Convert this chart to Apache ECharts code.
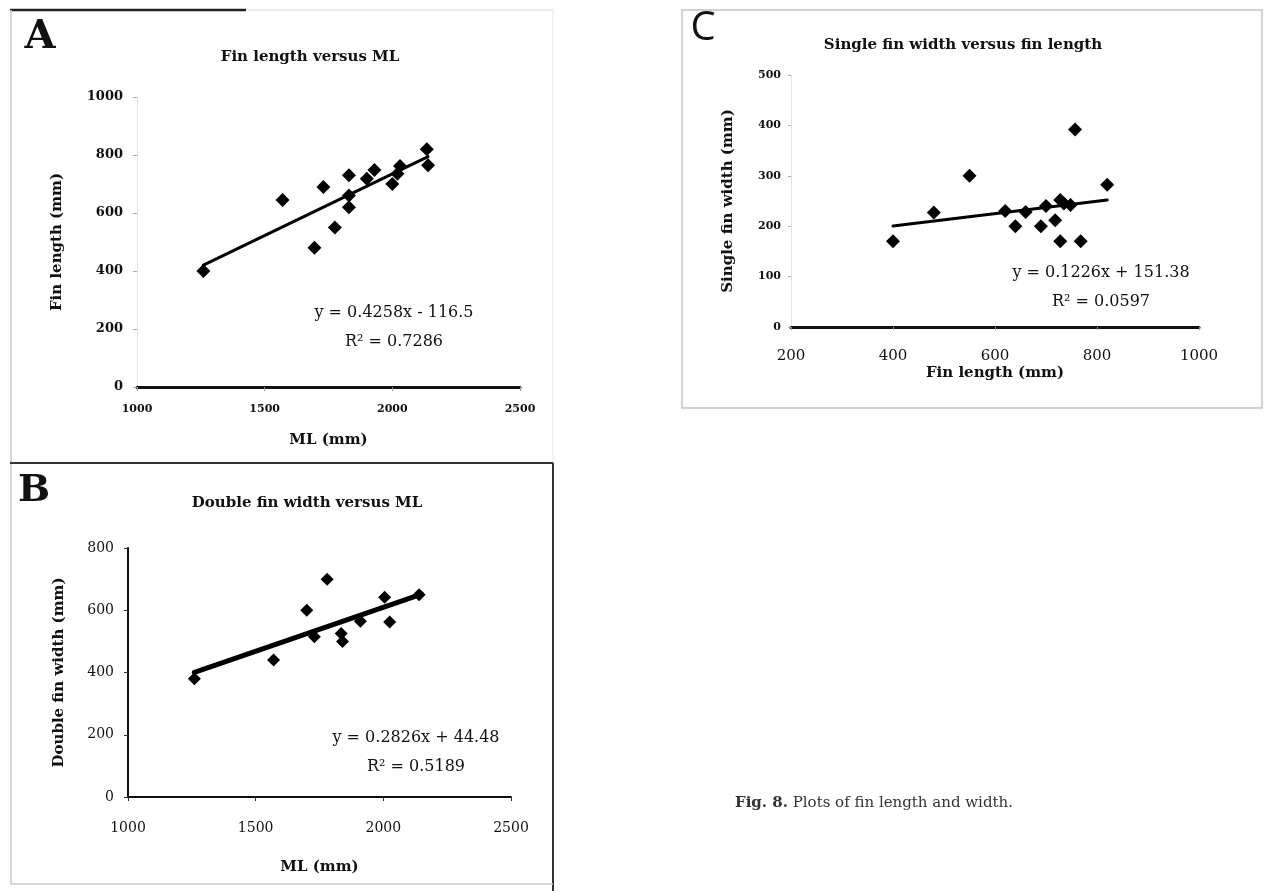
<!DOCTYPE html>
<html>
<head>
<meta charset="utf-8">
<script src="https://cdn.jsdelivr.net/npm/echarts@6/dist/echarts.min.js"></script>
<style>
  html, body { margin: 0; padding: 0; background: #fff; }
  #chart { width: 1268px; height: 891px; }
</style>
</head>
<body>
<div id="chart"></div>
<script>
// Panel A: fin length vs ML
const mlA = [1260, 1570, 1695, 1730, 1775, 1830, 1830, 1830, 1900, 1930, 2000, 2020, 2030, 2135, 2140];
const finLengthA = [400, 645, 480, 690, 550, 730, 660, 620, 718, 748, 700, 735, 762, 820, 765];

// Panel B: double fin width vs ML
const mlB = [1260, 1570, 1700, 1730, 1780, 1835, 1840, 1910, 2005, 2025, 2140];
const doubleWidthB = [380, 440, 600, 515, 700, 525, 500, 565, 642, 562, 650];

// Panel C: single fin width vs fin length
const finLengthC = [400, 480, 550, 620, 640, 660, 690, 700, 718, 728, 728, 735, 748, 757, 768, 820];
const singleWidthC = [170, 227, 300, 230, 200, 228, 200, 240, 212, 252, 170, 245, 242, 392, 170, 282];

// linear fits printed on the panels
const slopes = [0.4258, 0.2826, 0.1226];
const intercepts = [-116.5, 44.48, 151.38];
const fitSpans = [[1260, 2140], [1260, 2150], [400, 820]];
const equations = ["y = 0.4258x - 116.5", "y = 0.2826x + 44.48", "y = 0.1226x + 151.38"];
const rSquared = ["R² = 0.7286", "R² = 0.5189", "R² = 0.0597"];

const titles = ["Fin length versus ML", "Double fin width versus ML", "Single fin width versus fin length"];
const xNames = ["ML (mm)", "ML (mm)", "Fin length (mm)"];
const yNames = ["Fin length (mm)", "Double fin width (mm)", "Single fin width (mm)"];

const SERIF = '"DejaVu Serif", "Liberation Serif", serif';

const pairs = (xs, ys) => xs.map((x, i) => [x, ys[i]]);
const fitLine = (i) => fitSpans[i].map((x) => [x, slopes[i] * x + intercepts[i]]);
const plain = (v) => String(v);

const grids = [
  { left: 137, top: 97, width: 383, height: 290 },
  { left: 128, top: 548, width: 383, height: 249 },
  { left: 791, top: 75, width: 408, height: 252 },
];

const nameStyle = { fontFamily: SERIF, fontWeight: "bold", fontSize: 15, color: "#111" };

const xAxes = [
  {
    min: 1000, max: 2500, interval: 500,
    axisLine: { lineStyle: { color: "#111", width: 3 } },
    axisTick: { length: 4, lineStyle: { color: "#999" } },
    axisLabel: { fontFamily: SERIF, fontWeight: "bold", fontSize: 11, color: "#111", margin: 17, formatter: plain },
    nameGap: 46,
  },
  {
    min: 1000, max: 2500, interval: 500,
    axisLine: { lineStyle: { color: "#111", width: 2 } },
    axisTick: { length: 4, lineStyle: { color: "#333" } },
    axisLabel: { fontFamily: SERIF, fontSize: 14, color: "#111", margin: 24, formatter: plain },
    nameGap: 63,
  },
  {
    min: 200, max: 1000, interval: 200,
    axisLine: { lineStyle: { color: "#111", width: 3 } },
    axisTick: { length: 3, lineStyle: { color: "#999" } },
    axisLabel: { fontFamily: SERIF, fontSize: 15, color: "#111", margin: 22, formatter: plain },
    nameGap: 39,
  },
].map((a, i) => ({
  type: "value", gridIndex: i, splitLine: { show: false },
  name: xNames[i], nameLocation: "middle", nameTextStyle: nameStyle, ...a,
}));

const yAxes = [
  {
    min: 0, max: 1000, interval: 200,
    axisLine: { show: true, lineStyle: { color: "#e2e2e2", width: 1 } },
    axisTick: { show: true, length: 4, lineStyle: { color: "#aaa" } },
    axisLabel: { fontFamily: SERIF, fontWeight: "bold", fontSize: 13, color: "#111", margin: 14, formatter: plain },
    nameGap: 72,
  },
  {
    min: 0, max: 800, interval: 200,
    axisLine: { show: true, lineStyle: { color: "#111", width: 2 } },
    axisTick: { show: true, length: 4, lineStyle: { color: "#333" } },
    axisLabel: { fontFamily: SERIF, fontSize: 14, color: "#111", margin: 14, formatter: plain },
    nameGap: 61,
  },
  {
    min: 0, max: 500, interval: 100,
    axisLine: { show: true, lineStyle: { color: "#e2e2e2", width: 1 } },
    axisTick: { show: true, length: 3, lineStyle: { color: "#aaa" } },
    axisLabel: { fontFamily: SERIF, fontWeight: "bold", fontSize: 11, color: "#111", margin: 10, formatter: plain },
    nameGap: 55,
  },
].map((a, i) => ({
  type: "value", gridIndex: i, splitLine: { show: false },
  name: yNames[i], nameLocation: "middle", nameRotate: 90, nameTextStyle: nameStyle, ...a,
}));

const scatterData = [pairs(mlA, finLengthA), pairs(mlB, doubleWidthB), pairs(finLengthC, singleWidthC)];
const lineWidths = [3, 5, 3];
const symbolSizes = [14, 13, 14];

const series = [];
scatterData.forEach((d, i) => {
  series.push({
    type: "line", xAxisIndex: i, yAxisIndex: i, data: fitLine(i),
    showSymbol: false, silent: true, z: 2,
    lineStyle: { color: "#000", width: lineWidths[i], cap: "round" },
  });
  series.push({
    type: "scatter", xAxisIndex: i, yAxisIndex: i, data: d, z: 3,
    symbol: "diamond", symbolSize: symbolSizes[i],
    itemStyle: { color: "#000", opacity: 1 },
  });
});

const text = (x, y, str, font, extra = {}) => ({
  type: "text", x, y, z: 10,
  style: { text: str, font, fill: "#111", align: "center", verticalAlign: "middle", ...extra },
});
const seg = (x1, y1, x2, y2, stroke, lineWidth) => ({
  type: "line", shape: { x1, y1, x2, y2 }, style: { stroke, lineWidth },
});

const titlePos = [[310, 57], [307, 503], [963, 45]];
const eqPos = [[394, 313], [416, 738], [1101, 273]];

const graphic = [
  // frames
  seg(10, 10, 246, 10, "#222", 2.5),
  seg(246, 10, 553, 10, "#d8d8d8", 1),
  seg(11, 10, 11, 884, "#c8c8c8", 1.5),
  seg(553, 10, 553, 463, "#e6e6e6", 1),
  seg(10, 463, 553, 463, "#333", 2),
  seg(553, 463, 553, 891, "#333", 2),
  seg(11, 884, 553, 884, "#c8c8c8", 1.5),
  { type: "rect", shape: { x: 682, y: 10, width: 580, height: 398 }, style: { fill: "none", stroke: "#c4c4c4", lineWidth: 1.5 } },
  // panel letters
  text(40, 38, "A", 'bold 40px "DejaVu Serif", serif'),
  text(34, 491, "B", 'bold 38px "DejaVu Serif", serif'),
  text(703, 29, "C", '40px "Open Sans", sans-serif'),
  // caption
  {
    type: "text", x: 735, y: 803, z: 10,
    style: {
      text: "{b|Fig. 8.} Plots of fin length and width.",
      font: '15px "DejaVu Serif", serif', fill: "#333", verticalAlign: "middle",
      rich: { b: { fontFamily: SERIF, fontWeight: "bold", fontSize: 15, fill: "#333" } },
    },
  },
];
titles.forEach((t, i) => graphic.push(text(titlePos[i][0], titlePos[i][1], t, 'bold 15px "DejaVu Serif", serif')));
equations.forEach((e, i) => {
  graphic.push(text(eqPos[i][0], eqPos[i][1], e, '16px "DejaVu Serif", serif'));
  graphic.push(text(eqPos[i][0], eqPos[i][1] + 29, rSquared[i], '16px "DejaVu Serif", serif'));
});

const chart = echarts.init(document.getElementById("chart"));
chart.setOption({
  animation: false,
  backgroundColor: "#fff",
  grid: grids,
  xAxis: xAxes,
  yAxis: yAxes,
  series,
  graphic,
});
</script>
</body>
</html>
